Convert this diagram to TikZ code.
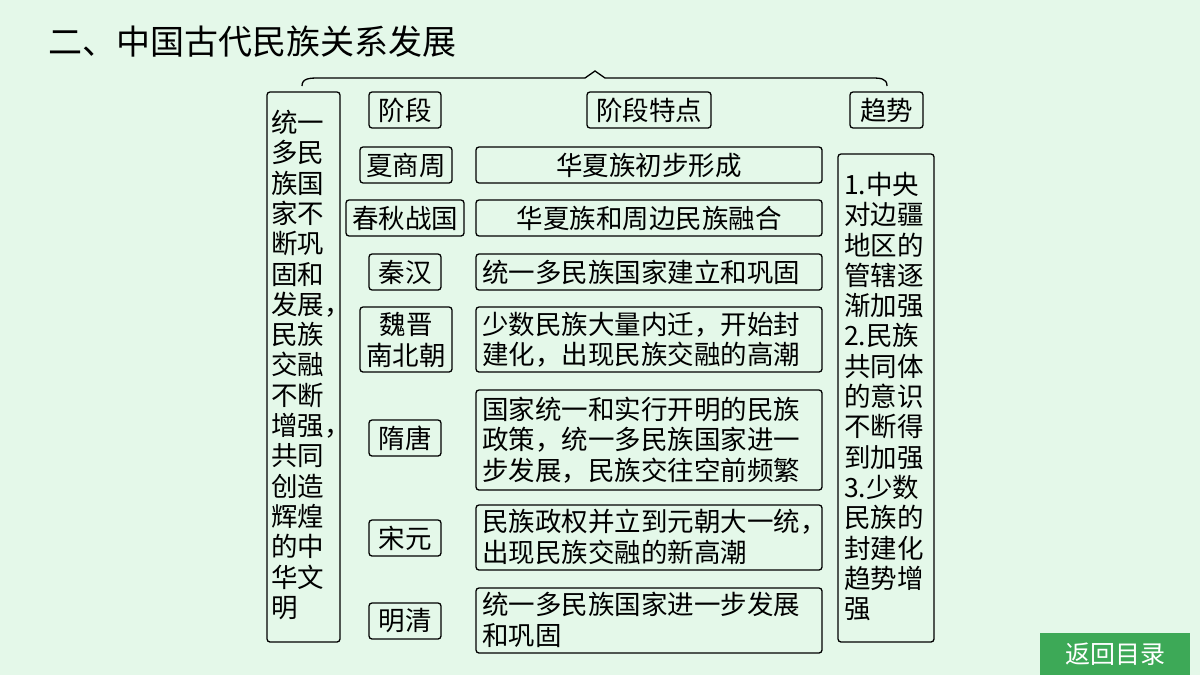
\documentclass[tikz,border=0pt]{standalone}
\usepackage{fontspec}
\setmainfont{Noto Sans CJK SC}
\definecolor{bg}{HTML}{E4F8E9}
\definecolor{btn}{HTML}{3DA957}
\begin{document}
\begin{tikzpicture}[x=1pt,y=-1pt,
  bx/.style={draw,line width=1.3pt,rounded corners=3pt},
  tx/.style={font=\fontsize{26.5}{30.3}\selectfont,inner sep=0pt},
  lt/.style={tx,anchor=west,align=left}]
\fill[bg] (0,0) rectangle (1200,675);
\useasboundingbox (0,0) rectangle (1200,675);
\node[anchor=west,font=\fontsize{34}{38}\selectfont,inner sep=0] (title) at (48,42) {二、中国古代民族关系发展};
\draw[line width=1.3pt] (302,86) .. controls (302,78) and (310,78) .. (320,78) -- (585,78) -- (595,71) -- (605,78) -- (870,78) .. controls (880,78) and (887,78) .. (887,86);
% left
\draw[bx] (267,92) rectangle (340,642);
\node[lt,anchor=north west] (lefttext) at (271,110) {统一\\多民\\族国\\家不\\断巩\\固和\\发展，\\民族\\交融\\不断\\增强，\\共同\\创造\\辉煌\\的中\\华文\\明};
% headers
\foreach \n/\a/\b/\y/\t in {h1/369/441/92/阶段,h2/587/711/92/阶段特点,h3/850/923/92/趋势,
  s1/360/452/147/夏商周,s2/346/464/200/春秋战国,s3/369/441/254/秦汉,s5/369/441/420/隋唐,s6/369/441/520/宋元,s7/369/441/603/明清}{
  \draw[bx] (\a,\y) rectangle (\b,\y+36);
  \node[tx] (\n) at ({(\a+\b)/2},\y+18) {\t};
}
\draw[bx] (360,307) rectangle (452,372);
\node[tx,align=center] (s4) at (406,340) {魏晋\\南北朝};
% features
\foreach \y in {147,200,254}{
  \draw[bx] (476,\y) rectangle (822,\y+36);
}
\node[tx] (f1) at (649,165) {华夏族初步形成};
\node[tx] (f2) at (649,218) {华夏族和周边民族融合};
\node[lt] (f3) at (482,272) {统一多民族国家建立和巩固};
\draw[bx] (476,307) rectangle (822,372);
\node[lt] (f4) at (482,340) {少数民族大量内迁，开始封\\建化，出现民族交融的高潮};
\draw[bx] (476,390) rectangle (822,490);
\node[lt] (f5) at (482,440) {国家统一和实行开明的民族\\政策，统一多民族国家进一\\步发展，民族交往空前频繁};
\draw[bx] (476,505) rectangle (822,570);
\node[lt] (f6) at (482,537) {民族政权并立到元朝大一统，\\出现民族交融的新高潮};
\draw[bx] (476,588) rectangle (822,653);
\node[lt] (f7) at (482,620) {统一多民族国家进一步发展\\和巩固};
% right
\draw[bx] (838,154) rectangle (934,642);
\node[lt,anchor=north west] (righttext) at (844,172) {1.中央\\对边疆\\地区的\\管辖逐\\渐加强\\2.民族\\共同体\\的意识\\不断得\\到加强\\3.少数\\民族的\\封建化\\趋势增\\强};
% button
\fill[btn] (1040,633) rectangle (1190,675);
\node[font=\fontsize{25}{28}\selectfont,text=white,inner sep=0] (btn) at (1115,654) {返回目录};
\end{tikzpicture}
\end{document}
